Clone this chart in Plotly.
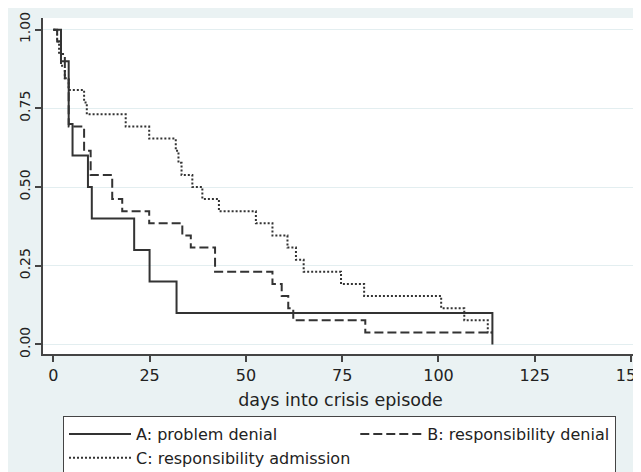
import plotly.graph_objects as go

# ---- data (Kaplan-Meier style step curves) ----
days_a = [0, 2, 4, 5, 9, 10, 21, 25, 32, 114]
surv_a = [1.0, 0.9, 0.7, 0.6, 0.5, 0.4, 0.3, 0.2, 0.1, 0.0]

days_b = [0, 1, 2, 3, 4, 8, 9.7, 15.3, 17.9, 24.9, 33.5, 35.7, 42, 56.9, 59.3, 61, 62.3, 81, 114]
surv_b = [1.0, 0.962, 0.923, 0.846, 0.692, 0.615, 0.538, 0.462, 0.423, 0.385, 0.346, 0.308,
          0.231, 0.192, 0.154, 0.115, 0.077, 0.038, 0.038]

days_c = [0, 1, 1.5, 2, 3, 4, 8, 8.7, 18.8, 24.9, 31.8, 32.5, 33.3, 36.1, 38.7, 43, 52.6,
          56.9, 60.8, 63, 65, 74.7, 80.7, 100.7, 106.7, 112.8, 114]
surv_c = [1.0, 0.962, 0.923, 0.885, 0.846, 0.808, 0.769, 0.731, 0.692, 0.654, 0.615, 0.577,
          0.538, 0.5, 0.462, 0.423, 0.385, 0.346, 0.308, 0.269, 0.231, 0.192, 0.154, 0.115,
          0.077, 0.038, 0.038]

series_names = ["A: problem denial", "B: responsibility denial", "C: responsibility admission"]
x_ticks = [0, 25, 50, 75, 100, 125, 150]
y_ticks = [0, 0.25, 0.5, 0.75, 1.0]
y_ticklabels = ["0.00", "0.25", "0.50", "0.75", "1.00"]
x_title = "days into crisis episode"

# ---- styling ----
# the page body keeps its default 8px margin, so the figure fills the rest of the window
W, H = 633, 464
ML, MR, MT, MB = 35, 3, 10, 118
BG = "#eaf2f3"
INK = "#333333"
FONT = "DejaVu Sans"
LEGEND_PAD = "\u00a0" * 14  # widens the first legend column so B sits in a second column

fig = go.Figure()
fig.add_trace(go.Scatter(x=days_a, y=surv_a, mode="lines", name=series_names[0] + LEGEND_PAD,
                         line=dict(shape="hv", color=INK, width=2, dash="solid")))
fig.add_trace(go.Scatter(x=days_b, y=surv_b, mode="lines", name=series_names[1],
                         line=dict(shape="hv", color=INK, width=2, dash="9px,4px")))
fig.add_trace(go.Scatter(x=days_c, y=surv_c, mode="lines", name=series_names[2],
                         line=dict(shape="hv", color=INK, width=2, dash="2px,2px")))

pw = W - ML - MR
ph = H - MT - MB


def px(xpix):
    return (xpix - ML) / pw


def py(ypix):
    return (H - MB - ypix) / ph


fig.update_layout(
    width=W, height=H, autosize=False,
    margin=dict(l=ML, r=MR, t=MT, b=MB, autoexpand=False),
    paper_bgcolor=BG, plot_bgcolor="white",
    font=dict(family=FONT, size=16, color="#222222"),
    showlegend=True,
    legend=dict(orientation="h", x=px(55), y=py(408), xanchor="left", yanchor="top",
                bgcolor="white", bordercolor="#444444", borderwidth=1,
                font=dict(family=FONT, size=16, color="#222222"),
                itemwidth=62, traceorder="normal"),
    xaxis=dict(range=[-2.67, 151.8], tickmode="array", tickvals=x_ticks,
               showgrid=False, zeroline=False, showline=True, linecolor="#444444", linewidth=1.5,
               ticks="outside", ticklen=6, tickcolor="#444444", tickwidth=1.5,
               ticklabeloverflow="allow",
               tickfont=dict(family=FONT, size=16, color="#222222"),
               title=dict(text=x_title, font=dict(family=FONT, size=17.5, color="#222222"),
                          standoff=10)),
    yaxis=dict(range=[-0.0302, 1.037], tickmode="array", tickvals=y_ticks, ticktext=y_ticklabels,
               tickangle=-90, showgrid=True, gridcolor="#e3eef0", gridwidth=1,
               zeroline=False, showline=True, linecolor="#444444", linewidth=1.5,
               ticks="outside", ticklen=6, tickcolor="#444444", tickwidth=1.5,
               tickfont=dict(family=FONT, size=14, color="#222222")),
)

fig.write_html("out.html")
